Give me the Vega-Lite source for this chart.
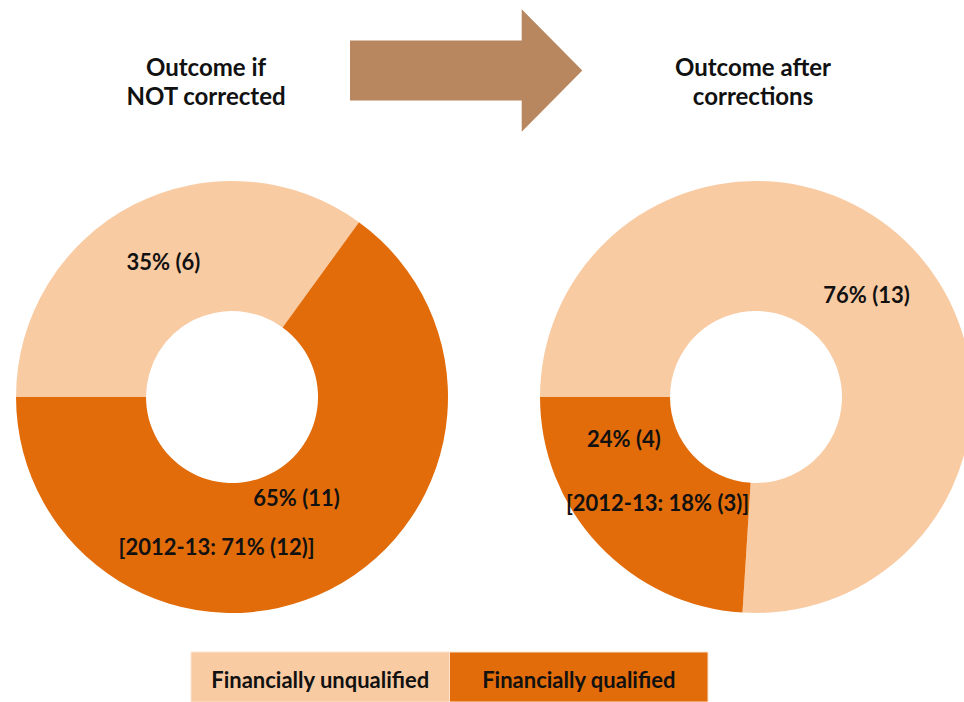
{
  "$schema": "https://vega.github.io/schema/vega-lite/v6.json",
  "width": 964,
  "height": 702,
  "autosize": {"type": "none"},
  "padding": 0,
  "background": "white",
  "config": {"view": {"stroke": null}},
  "datasets": {
    "pies": [
      {"panel": "Outcome if NOT corrected", "category": "Financially unqualified", "pct": 35, "label": "35% (6)", "note": ""},
      {"panel": "Outcome if NOT corrected", "category": "Financially qualified", "pct": 65, "label": "65% (11)", "note": "[2012-13: 71% (12)]"},
      {"panel": "Outcome after corrections", "category": "Financially unqualified", "pct": 76, "label": "76% (13)", "note": ""},
      {"panel": "Outcome after corrections", "category": "Financially qualified", "pct": 24, "label": "24% (4)", "note": "[2012-13: 18% (3)]"}
    ],
    "legend": [
      {"category": "Financially unqualified"},
      {"category": "Financially qualified"}
    ]
  },
  "resolve": {"scale": {"x": "independent", "y": "independent"}},
  "layer": [
    {
      "data": {"name": "pies"},
      "layer": [
        {
          "transform": [{"filter": "datum.panel === 'Outcome if NOT corrected'"}],
          "mark": {"type": "arc", "outerRadius": 216, "innerRadius": 86},
          "encoding": {
            "x": {"field": "panel", "type": "nominal", "axis": null, "scale": {"type": "point", "domain": ["Outcome if NOT corrected", "arrow", "Outcome after corrections"], "padding": 0.8397, "align": 0.5273, "round": false}},
            "y": {"datum": "pie", "type": "nominal", "axis": null, "scale": {"type": "point", "domain": ["title", "pie"], "padding": 0.575, "align": 0.1877, "round": false}},
            "theta": {"field": "pct", "type": "quantitative", "stack": true, "scale": {"range": [4.71238898038469, 10.995574287564276]}},
            "order": {"field": "category", "type": "ordinal", "sort": "descending"},
            "color": {"field": "category", "type": "nominal", "legend": null, "scale": {"domain": ["Financially unqualified", "Financially qualified"], "range": ["#F9CBA3", "#E36C0A"]}}
          }
        },
        {
          "transform": [{"filter": "datum.panel === 'Outcome after corrections'"}],
          "mark": {"type": "arc", "outerRadius": 216, "innerRadius": 86},
          "encoding": {
            "x": {"field": "panel", "type": "nominal", "axis": null},
            "y": {"datum": "pie", "type": "nominal", "axis": null},
            "theta": {"field": "pct", "type": "quantitative", "stack": true},
            "order": {"field": "category", "type": "ordinal", "sort": "descending"},
            "color": {"field": "category", "type": "nominal", "legend": null}
          }
        },
        {
          "transform": [{"filter": "datum.panel === 'Outcome if NOT corrected'"}],
          "mark": {"type": "text", "radius": 151, "font": "Lato", "fontSize": 22, "fontWeight": "bold", "fill": "#111111", "align": "center", "baseline": "alphabetic", "dx": 0, "dy": 8},
          "encoding": {
            "x": {"field": "panel", "type": "nominal", "axis": null},
            "y": {"datum": "pie", "type": "nominal", "axis": null},
            "theta": {"field": "pct", "type": "quantitative", "stack": true},
            "order": {"field": "category", "type": "ordinal", "sort": "descending"},
            "detail": {"field": "category", "type": "nominal"},
            "text": {"condition": {"test": "datum.category === 'Financially unqualified'", "field": "label", "type": "nominal"}, "value": ""}
          }
        },
        {
          "transform": [{"filter": "datum.panel === 'Outcome if NOT corrected'"}],
          "mark": {"type": "text", "radius": 151, "font": "Lato", "fontSize": 22, "fontWeight": "bold", "fill": "#111111", "align": "center", "baseline": "alphabetic", "dx": -4, "dy": -25.5},
          "encoding": {
            "x": {"field": "panel", "type": "nominal", "axis": null},
            "y": {"datum": "pie", "type": "nominal", "axis": null},
            "theta": {"field": "pct", "type": "quantitative", "stack": true},
            "order": {"field": "category", "type": "ordinal", "sort": "descending"},
            "detail": {"field": "category", "type": "nominal"},
            "text": {"condition": {"test": "datum.category === 'Financially qualified'", "field": "label", "type": "nominal"}, "value": ""}
          }
        },
        {
          "transform": [{"filter": "datum.panel === 'Outcome if NOT corrected'"}],
          "mark": {"type": "text", "radius": 151, "font": "Lato", "fontSize": 22, "fontWeight": "bold", "fill": "#111111", "align": "center", "baseline": "alphabetic", "dx": -84, "dy": 23.5},
          "encoding": {
            "x": {"field": "panel", "type": "nominal", "axis": null},
            "y": {"datum": "pie", "type": "nominal", "axis": null},
            "theta": {"field": "pct", "type": "quantitative", "stack": true},
            "order": {"field": "category", "type": "ordinal", "sort": "descending"},
            "detail": {"field": "category", "type": "nominal"},
            "text": {"field": "note", "type": "nominal"}
          }
        },
        {
          "transform": [{"filter": "datum.panel === 'Outcome after corrections'"}],
          "mark": {"type": "text", "radius": 151, "font": "Lato", "fontSize": 22, "fontWeight": "bold", "fill": "#111111", "align": "center", "baseline": "alphabetic", "dx": 0.5, "dy": 9.7},
          "encoding": {
            "x": {"field": "panel", "type": "nominal", "axis": null},
            "y": {"datum": "pie", "type": "nominal", "axis": null},
            "theta": {"field": "pct", "type": "quantitative", "stack": true},
            "order": {"field": "category", "type": "ordinal", "sort": "descending"},
            "detail": {"field": "category", "type": "nominal"},
            "text": {"condition": {"test": "datum.category === 'Financially unqualified'", "field": "label", "type": "nominal"}, "value": ""}
          }
        },
        {
          "transform": [{"filter": "datum.panel === 'Outcome after corrections'"}],
          "mark": {"type": "text", "radius": 151, "font": "Lato", "fontSize": 22, "fontWeight": "bold", "fill": "#111111", "align": "center", "baseline": "alphabetic", "dx": -22, "dy": -53.7},
          "encoding": {
            "x": {"field": "panel", "type": "nominal", "axis": null},
            "y": {"datum": "pie", "type": "nominal", "axis": null},
            "theta": {"field": "pct", "type": "quantitative", "stack": true},
            "order": {"field": "category", "type": "ordinal", "sort": "descending"},
            "detail": {"field": "category", "type": "nominal"},
            "text": {"condition": {"test": "datum.category === 'Financially qualified'", "field": "label", "type": "nominal"}, "value": ""}
          }
        },
        {
          "transform": [{"filter": "datum.panel === 'Outcome after corrections'"}],
          "mark": {"type": "text", "radius": 151, "font": "Lato", "fontSize": 22, "fontWeight": "bold", "fill": "#111111", "align": "center", "baseline": "alphabetic", "dx": 11.6, "dy": 10.6},
          "encoding": {
            "x": {"field": "panel", "type": "nominal", "axis": null},
            "y": {"datum": "pie", "type": "nominal", "axis": null},
            "theta": {"field": "pct", "type": "quantitative", "stack": true},
            "order": {"field": "category", "type": "ordinal", "sort": "descending"},
            "detail": {"field": "category", "type": "nominal"},
            "text": {"field": "note", "type": "nominal"}
          }
        },
        {
          "data": {"values": [{"panel": "Outcome if NOT corrected", "title": "Outcome if\nNOT corrected"}]},
          "mark": {"type": "text", "font": "Lato", "fontSize": 24, "fontWeight": "bold", "fill": "#111111", "align": "center", "baseline": "alphabetic", "lineBreak": "\n", "lineHeight": 28.5, "dx": -26, "dy": 6},
          "encoding": {
            "x": {"field": "panel", "type": "nominal", "axis": null},
            "y": {"datum": "title", "type": "nominal", "axis": null},
            "text": {"field": "title", "type": "nominal"}
          }
        },
        {
          "data": {"values": [{"panel": "Outcome after corrections", "title": "Outcome after\ncorrections"}]},
          "mark": {"type": "text", "font": "Lato", "fontSize": 24, "fontWeight": "bold", "fill": "#111111", "align": "center", "baseline": "alphabetic", "lineBreak": "\n", "lineHeight": 28.5, "dx": -3, "dy": 6},
          "encoding": {
            "x": {"field": "panel", "type": "nominal", "axis": null},
            "y": {"datum": "title", "type": "nominal", "axis": null},
            "text": {"field": "title", "type": "nominal"}
          }
        },
        {
          "data": {"values": [{"shape": "arrow"}]},
          "mark": {"type": "point", "shape": "M -1.44 -0.3 L 0.277 -0.3 L 0.277 -0.612 L 0.883 0 L 0.277 0.612 L 0.277 0.3 L -1.44 0.3 Z", "size": 40000, "filled": true, "fill": "#B8865F", "opacity": 1, "strokeWidth": 0},
          "encoding": {
            "x": {"datum": "arrow", "type": "nominal", "axis": null},
            "y": {"datum": "title", "type": "nominal", "axis": null}
          }
        }
      ]
    },
    {
      "data": {"name": "legend"},
      "layer": [
        {
          "mark": {"type": "rect", "height": 50, "stroke": "#FCE3CE", "strokeWidth": 1},
          "encoding": {
            "x": {"field": "category", "type": "nominal", "axis": null, "scale": {"type": "band", "domain": ["Financially unqualified", "Financially qualified"], "paddingInner": 0, "paddingOuter": 0.8646, "align": 0.4273, "round": false}},
            "y": {"datum": "legend", "type": "nominal", "axis": null, "scale": {"type": "point", "domain": ["legend"], "padding": 0, "align": 0.9644, "round": false}},
            "color": {"field": "category", "type": "nominal", "legend": null}
          }
        },
        {
          "mark": {"type": "text", "font": "Lato", "fontSize": 22, "fontWeight": "bold", "fill": "#111111", "align": "center", "baseline": "alphabetic", "dy": 11},
          "encoding": {
            "x": {"field": "category", "type": "nominal", "axis": null},
            "y": {"datum": "legend", "type": "nominal", "axis": null},
            "text": {"field": "category", "type": "nominal"}
          }
        }
      ]
    }
  ]
}
